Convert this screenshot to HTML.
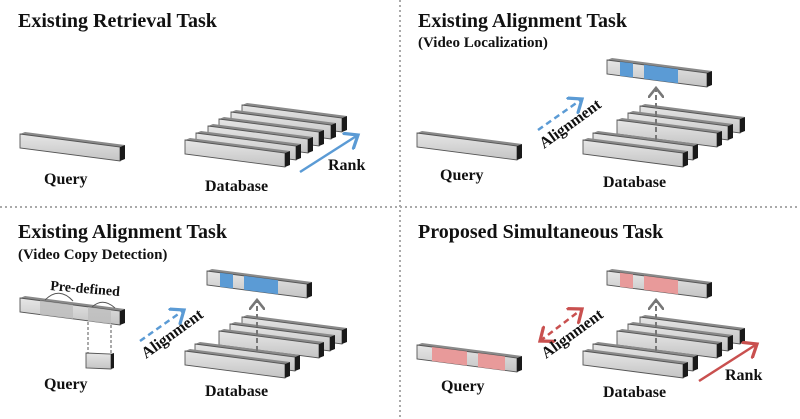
<!DOCTYPE html>
<html><head><meta charset="utf-8"><style>
html,body{margin:0;padding:0;background:#fff}
svg{display:block}
text{font-family:"Liberation Serif",serif;font-weight:bold;fill:#111}
</style></head><body>
<svg width="800" height="419" viewBox="0 0 800 419" xmlns="http://www.w3.org/2000/svg">
<defs>
<linearGradient id="gf" x1="0" y1="0" x2="0" y2="1">
<stop offset="0" stop-color="#e6e6e6"/><stop offset="1" stop-color="#c4c4c4"/></linearGradient>
<g id="bar">
<polygon points="0,0 5,-2 105,11 100,13" fill="#8a8a8a"/>
<polygon points="0,0 100,13 100,27 0,14" fill="url(#gf)" stroke="#555" stroke-width="0.9"/>
<polygon points="100,13 105,11 105,25 100,27" fill="#1a1a1a"/>
</g>
<g id="blueseg">
<polygon points="13,1.7 26,3.4 26,17.4 13,15.7" fill="#5b9bd5"/>
<polygon points="37,4.8 71,9.2 71,23.2 37,18.8" fill="#5b9bd5"/>
</g>
<g id="pinkseg">
<polygon points="13,1.7 26,3.4 26,17.4 13,15.7" fill="#e89a9a"/>
<polygon points="37,4.8 71,9.2 71,23.2 37,18.8" fill="#e89a9a"/>
</g>
<g id="db5">
<use href="#bar" x="57" y="-34"/>
<use href="#bar" x="45" y="-27"/>
<use href="#bar" x="34" y="-20"/>
<use href="#bar" x="10" y="-7"/>
<use href="#bar" x="0" y="0"/>
</g>
<marker id="ab" markerWidth="7" markerHeight="8" refX="5" refY="4" orient="auto" markerUnits="strokeWidth"><path d="M0,0 L5,4 L0,8" fill="none" stroke="#5b9bd5" stroke-width="1.3"/></marker>
<marker id="ar" markerWidth="7" markerHeight="8" refX="5" refY="4" orient="auto-start-reverse" markerUnits="strokeWidth"><path d="M0,0 L5,4 L0,8" fill="none" stroke="#c9504f" stroke-width="1.3"/></marker>
<marker id="ag" markerWidth="7" markerHeight="8" refX="5" refY="4" orient="auto" markerUnits="strokeWidth"><path d="M0,0 L5,4 L0,8" fill="none" stroke="#777" stroke-width="1.3"/></marker>
</defs>

<line x1="400" y1="0" x2="400" y2="419" stroke="#aaa" stroke-width="2" stroke-dasharray="2,3"/>
<line x1="0" y1="207" x2="800" y2="207" stroke="#aaa" stroke-width="2" stroke-dasharray="2,3"/>

<!-- Panel 1 -->
<text x="18" y="27" font-size="20">Existing Retrieval Task</text>
<use href="#bar" x="20" y="134"/>
<use href="#bar" x="242" y="105"/>
<use href="#bar" x="231" y="112"/>
<use href="#bar" x="219" y="119"/>
<use href="#bar" x="208" y="126"/>
<use href="#bar" x="196" y="133"/>
<use href="#bar" x="185" y="140"/>
<line x1="300" y1="172" x2="358" y2="135" stroke="#5b9bd5" stroke-width="2.5" marker-end="url(#ab)"/>
<text x="44" y="184" font-size="16">Query</text>
<text x="205" y="191" font-size="16">Database</text>
<text x="328" y="170" font-size="16">Rank</text>

<!-- Panel 2 -->
<text x="418" y="27" font-size="20">Existing Alignment Task</text>
<text x="418" y="47" font-size="15">(Video Localization)</text>
<use href="#bar" x="417" y="133"/>
<use href="#db5" x="583" y="140"/>
<use href="#bar" x="607" y="60"/><use href="#blueseg" x="607" y="60"/>
<line x1="656" y1="140" x2="656" y2="88" stroke="#777" stroke-width="2" stroke-dasharray="5,3" marker-end="url(#ag)"/>
<line x1="538" y1="130" x2="582" y2="99" stroke="#5b9bd5" stroke-width="2.5" stroke-dasharray="6,4" marker-end="url(#ab)"/>
<text x="0" y="0" font-size="16" transform="translate(544,149) rotate(-36)">Alignment</text>
<text x="440" y="180" font-size="16">Query</text>
<text x="603" y="187" font-size="16">Database</text>

<!-- Panel 3 -->
<text x="18" y="238" font-size="20">Existing Alignment Task</text>
<text x="18" y="259" font-size="15">(Video Copy Detection)</text>
<use href="#bar" x="20" y="298"/>
<polygon points="40,300.6 73,304.9 73,318.9 40,314.6" fill="#bdbdbd" opacity="0.8"/>
<polygon points="88,307 111,310 111,324 88,321" fill="#bdbdbd" opacity="0.8"/>
<path d="M45,300 Q59,286 73,301" fill="none" stroke="#555" stroke-width="1"/>
<path d="M92,307 Q103,297 115,308" fill="none" stroke="#555" stroke-width="1"/>
<text x="50" y="290" font-size="14" transform="rotate(5 50 290)">Pre-defined</text>
<line x1="88" y1="322" x2="88" y2="354" stroke="#555" stroke-dasharray="3,2"/>
<line x1="111" y1="325" x2="111" y2="354" stroke="#555" stroke-dasharray="3,2"/>
<polygon points="86,353 111,354 111,369 86,368" fill="url(#gf)" stroke="#555" stroke-width="0.9"/>
<polygon points="111,354 114,353 114,368 111,369" fill="#1a1a1a"/>
<use href="#db5" x="185" y="351"/>
<use href="#bar" x="207" y="271"/><use href="#blueseg" x="207" y="271"/>
<line x1="257" y1="351" x2="257" y2="300" stroke="#777" stroke-width="2" stroke-dasharray="5,3" marker-end="url(#ag)"/>
<line x1="140" y1="341" x2="184" y2="310" stroke="#5b9bd5" stroke-width="2.5" stroke-dasharray="6,4" marker-end="url(#ab)"/>
<text x="0" y="0" font-size="16" transform="translate(146,359) rotate(-36)">Alignment</text>
<text x="44" y="389" font-size="16">Query</text>
<text x="205" y="396" font-size="16">Database</text>

<!-- Panel 4 -->
<text x="418" y="238" font-size="20">Proposed Simultaneous Task</text>
<use href="#bar" x="417" y="345"/>
<polygon points="432,347 467,351.5 467,365.5 432,361" fill="#e89a9a"/>
<polygon points="478,353 505,356.5 505,370.5 478,367" fill="#e89a9a"/>
<use href="#db5" x="583" y="351"/>
<use href="#bar" x="607" y="271"/><use href="#pinkseg" x="607" y="271"/>
<line x1="656" y1="351" x2="656" y2="300" stroke="#777" stroke-width="2" stroke-dasharray="5,3" marker-end="url(#ag)"/>
<line x1="540" y1="341" x2="582" y2="309" stroke="#c9504f" stroke-width="2.5" stroke-dasharray="6,4" marker-start="url(#ar)" marker-end="url(#ar)"/>
<text x="0" y="0" font-size="16" transform="translate(546,359) rotate(-36)">Alignment</text>
<line x1="699" y1="381" x2="757" y2="344" stroke="#c9504f" stroke-width="2.5" marker-end="url(#ar)"/>
<text x="441" y="391" font-size="16">Query</text>
<text x="603" y="397" font-size="16">Database</text>
<text x="725" y="380" font-size="16">Rank</text>
</svg>
</body></html>
